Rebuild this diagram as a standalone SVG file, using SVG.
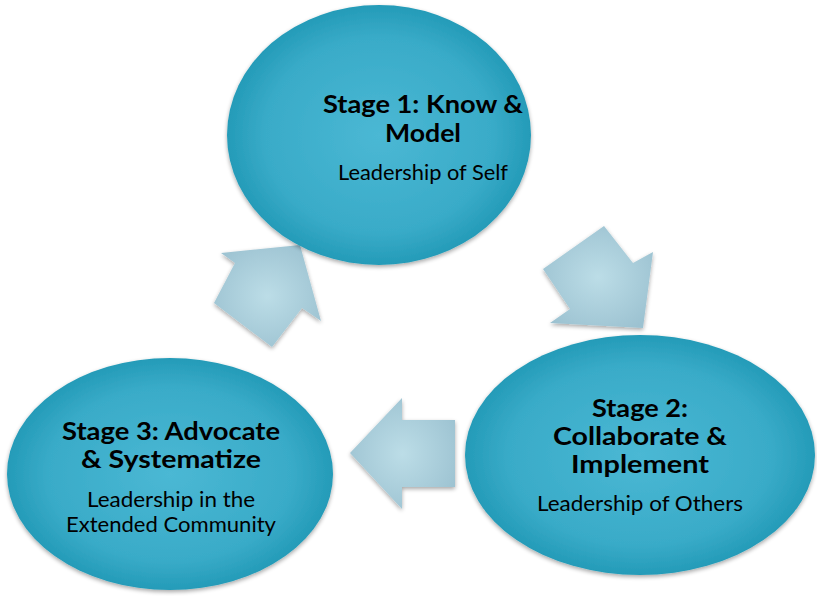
<svg xmlns="http://www.w3.org/2000/svg" width="817" height="596" viewBox="0 0 817 596">
<defs>
<radialGradient id="eg" cx="50%" cy="50%" r="50%">
<stop offset="0" stop-color="#4bb8d4"/>
<stop offset="0.75" stop-color="#39abc8"/>
<stop offset="1" stop-color="#249bb8"/>
</radialGradient>
<radialGradient id="ag" cx="50%" cy="50%" r="60%">
<stop offset="0" stop-color="#bcdde7"/>
<stop offset="1" stop-color="#9cc2d1"/>
</radialGradient>
<filter id="sh" x="-10%" y="-10%" width="120%" height="125%">
<feGaussianBlur in="SourceAlpha" stdDeviation="2"/>
<feOffset dx="0" dy="2" result="b"/>
<feComponentTransfer><feFuncA type="linear" slope="0.35"/></feComponentTransfer>
<feMerge><feMergeNode/><feMergeNode in="SourceGraphic"/></feMerge>
</filter>
</defs>
<style>
.node{fill:url(#eg);filter:url(#sh)}
.arr{fill:url(#ag);filter:url(#sh)}
.t{font-family:Lato,"Open Sans","Liberation Sans",sans-serif;font-weight:bold;font-size:25px;fill:#000;text-anchor:middle}
.s{font-family:Lato,"Open Sans","Liberation Sans",sans-serif;font-size:21px;fill:#000;text-anchor:middle}
</style>
<g id="connectors">
<polygon class="arr" points="300,245 321,321 302,308 272,347 214,303 235,263 221,253"/>
<polygon class="arr" points="604,226 633,263 653,252 643,328 550,323 570,309 543,269"/>
<polygon class="arr" points="350,453 402,398 402,420 455,420 455,487 402,487 402,509"/>
</g>
<g id="stage1">
<ellipse class="node" cx="379" cy="135" rx="152" ry="130"/>
<text class="t" x="423" y="113" textLength="200" lengthAdjust="spacingAndGlyphs">Stage 1: Know &amp;</text>
<text class="t" x="423" y="142" textLength="76" lengthAdjust="spacingAndGlyphs">Model</text>
<text class="s" x="423" y="180" textLength="170" lengthAdjust="spacingAndGlyphs">Leadership of Self</text>
</g>
<g id="stage2">
<ellipse class="node" cx="640" cy="455" rx="175" ry="120"/>
<text class="t" x="640" y="417" textLength="96" lengthAdjust="spacingAndGlyphs">Stage 2:</text>
<text class="t" x="640" y="445" textLength="174" lengthAdjust="spacingAndGlyphs">Collaborate &amp;</text>
<text class="t" x="640" y="473" textLength="138" lengthAdjust="spacingAndGlyphs">Implement</text>
<text class="s" x="640" y="511" textLength="206" lengthAdjust="spacingAndGlyphs">Leadership of Others</text>
</g>
<g id="stage3">
<ellipse class="node" cx="170" cy="474" rx="163" ry="116"/>
<text class="t" x="171" y="440" textLength="218" lengthAdjust="spacingAndGlyphs">Stage 3: Advocate</text>
<text class="t" x="171" y="468" textLength="180" lengthAdjust="spacingAndGlyphs">&amp; Systematize</text>
<text class="s" x="171" y="507" textLength="168" lengthAdjust="spacingAndGlyphs">Leadership in the</text>
<text class="s" x="171" y="532" textLength="210" lengthAdjust="spacingAndGlyphs">Extended Community</text>
</g>
</svg>
